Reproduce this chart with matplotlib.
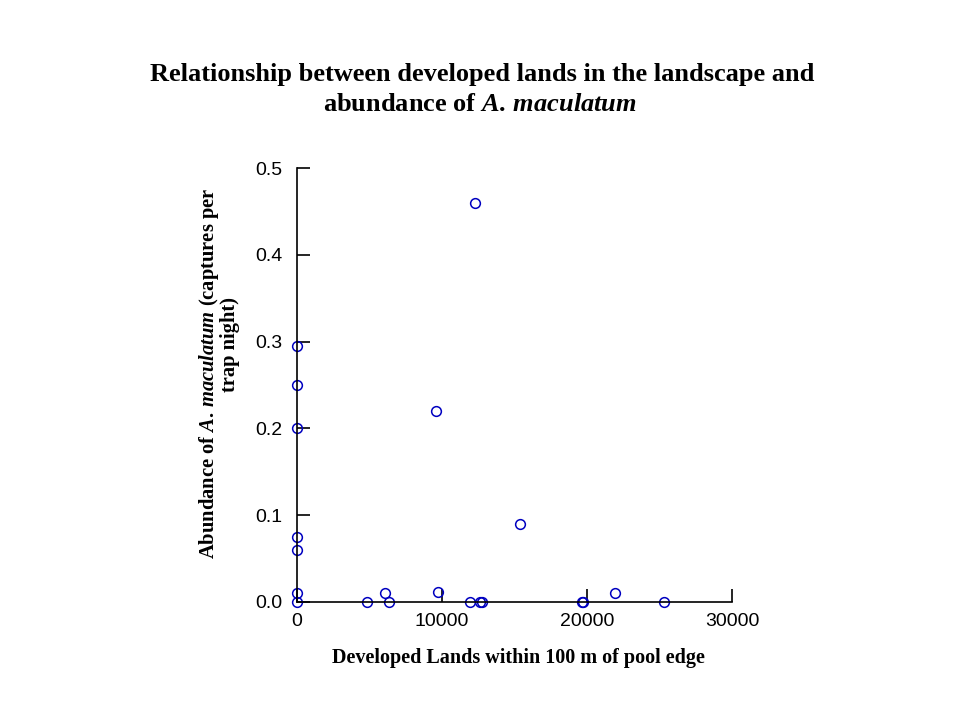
import matplotlib
matplotlib.use("Agg")
import matplotlib.pyplot as plt

# Developed lands (x) vs abundance of A. maculatum (y)
developed = [0, 0, 0, 0, 0, 0, 0,
             4850, 6070, 6370, 9590, 9750,
             11980, 12280, 12620, 12780,
             15380, 19630, 19700, 21930, 25310]
abundance = [0.295, 0.25, 0.2, 0.075, 0.06, 0.01, 0.0,
             0.0, 0.01, 0.0, 0.22, 0.011,
             0.0, 0.46, 0.0, 0.0,
             0.09, 0.0, 0.0, 0.01, 0.0]

x_ticks = [0, 10000, 20000, 30000]
y_ticks = [0.0, 0.1, 0.2, 0.3, 0.4, 0.5]

plt.rcParams["mathtext.fontset"] = "custom"
plt.rcParams["mathtext.it"] = "Liberation Serif:italic:bold"
plt.rcParams["mathtext.rm"] = "Liberation Serif:bold"

fig = plt.figure(figsize=(9.6, 7.2), dpi=100)
ax = fig.add_axes([0.309, 0.164, 0.4535, 0.6025])

ax.plot(developed, abundance, linestyle="none", marker="o", markersize=7,
        markerfacecolor="none", markeredgecolor="#0000c0", markeredgewidth=1.1,
        clip_on=False)

ax.set_xlim(0, 30000)
ax.set_ylim(0, 0.5)
ax.set_xticks(x_ticks)
ax.set_yticks(y_ticks)
ax.set_xticklabels([str(t) for t in x_ticks])
ax.set_yticklabels([f"{t:.1f}" for t in y_ticks])
ax.spines["top"].set_visible(False)
ax.spines["right"].set_visible(False)
for s in ("left", "bottom"):
    ax.spines[s].set_linewidth(1.2)
ax.tick_params(direction="in", length=9.5, width=1.2, labelsize=14, pad=8,
               labelfontfamily="Liberation Sans")
ax.tick_params(axis="y", pad=10)

ax.set_xlabel("Developed Lands within 100 m of pool edge", fontsize=14.5,
              fontweight="bold", family="Liberation Serif", labelpad=13)
ax.xaxis.label.set_x(0.51)

fig.text(0.2175, 0.482, r"Abundance of $A.\,maculatum$ (captures per",
         rotation=90, ha="center", va="center", fontsize=14.8,
         fontweight="bold", family="Liberation Serif")
fig.text(0.2395, 0.522, "trap night)",
         rotation=90, ha="center", va="center", fontsize=14.8,
         fontweight="bold", family="Liberation Serif")

fig.text(0.502, 0.897, "Relationship between developed lands in the landscape and",
         ha="center", va="center", fontsize=19, fontweight="bold",
         family="Liberation Serif")
fig.text(0.5, 0.855, r"abundance of $A.\,maculatum$",
         ha="center", va="center", fontsize=19, fontweight="bold",
         family="Liberation Serif")

fig.savefig("out.png", dpi=100)
